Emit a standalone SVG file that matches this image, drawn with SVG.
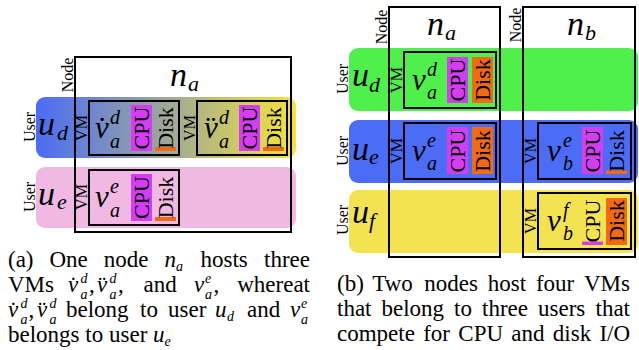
<svg xmlns="http://www.w3.org/2000/svg" width="639" height="350" viewBox="0 0 639 350" font-family="'Liberation Serif', 'DejaVu Serif', serif">
<style>
text{font-family:'Liberation Serif','DejaVu Serif',serif;fill:#000}
.big{font-size:34px;font-style:italic}
.vv{font-size:31px;font-style:italic}
.sub{font-size:22px;font-style:italic}
.ss{font-size:20px;font-style:italic}
.lbl{font-size:16px}
.res{font-size:22px}
.cap{font-size:23px}
.cm{font-style:italic}
.cs{font-size:14px;font-style:italic}
.box{fill:none;stroke:#000;stroke-width:2}
.cpu{fill:#d43ef2}
.disk{fill:#f26a12}
</style>
<defs>
<linearGradient id="gUd" x1="0" y1="0" x2="1" y2="0">
<stop offset="0" stop-color="#4a6cf6"/>
<stop offset="1" stop-color="#f3e43a"/>
</linearGradient>
</defs>

<g id="panel-a">
 <g id="a-user-ud">
  <rect x="36" y="97" width="260" height="61" rx="9" fill="url(#gUd)"/>
  <text class="lbl" text-anchor="middle" transform="translate(35,127) rotate(-90)">User</text>
  <text class="big" x="38" y="135">u<tspan class="sub" x="57" y="140">d</tspan></text>
 </g>
 <g id="a-user-ue">
  <rect x="36" y="167" width="260" height="61" rx="9" fill="#f0b8e2"/>
  <text class="lbl" text-anchor="middle" transform="translate(35,197) rotate(-90)">User</text>
  <text class="big" x="38" y="205">u<tspan class="sub" x="57" y="209">e</tspan></text>
 </g>
 <g id="a-node-na">
  <rect class="box" x="75" y="57" width="216" height="175"/>
  <text class="lbl" text-anchor="middle" transform="translate(73,75) rotate(-90)">Node</text>
  <text class="big" x="170" y="86">n<tspan class="sub" x="188" y="91">a</tspan></text>
 </g>
 <g id="a-vm1">
  <rect class="box" x="89" y="101" width="90" height="54"/>
  <text class="lbl" text-anchor="middle" transform="translate(87,128) rotate(-90)">VM</text>
  <text class="vv" x="95" y="138">v̇<tspan class="ss" x="110" y="124">d</tspan><tspan class="ss" x="110" y="148">a</tspan></text>
  <rect class="cpu" x="131" y="105" width="21" height="46"/>
  <text class="res" text-anchor="middle" transform="translate(149,128) rotate(-90)">CPU</text>
  <rect class="disk" x="155" y="147" width="21" height="4"/>
  <text class="res" text-anchor="middle" transform="translate(173,128) rotate(-90)">Disk</text>
 </g>
 <g id="a-vm2">
  <rect class="box" x="197" y="101" width="90" height="54"/>
  <text class="lbl" text-anchor="middle" transform="translate(195,128) rotate(-90)">VM</text>
  <text class="vv" x="204" y="138">v̈<tspan class="ss" x="219" y="124">d</tspan><tspan class="ss" x="219" y="148">a</tspan></text>
  <rect class="cpu" x="239" y="105" width="21" height="46"/>
  <text class="res" text-anchor="middle" transform="translate(257,128) rotate(-90)">CPU</text>
  <rect class="disk" x="263" y="147" width="21" height="4"/>
  <text class="res" text-anchor="middle" transform="translate(281,128) rotate(-90)">Disk</text>
 </g>
 <g id="a-vm3">
  <rect class="box" x="89" y="170" width="90" height="55"/>
  <text class="lbl" text-anchor="middle" transform="translate(87,197) rotate(-90)">VM</text>
  <text class="vv" x="95" y="207">v<tspan class="ss" x="110" y="193">e</tspan><tspan class="ss" x="110" y="217">a</tspan></text>
  <rect class="cpu" x="131" y="174" width="21" height="47"/>
  <text class="res" text-anchor="middle" transform="translate(149,197.5) rotate(-90)">CPU</text>
  <rect class="disk" x="155" y="217" width="21" height="4"/>
  <text class="res" text-anchor="middle" transform="translate(173,197.5) rotate(-90)">Disk</text>
 </g>
 <g id="caption-a">
  <text class="cap"><tspan x="8" y="267">(a)</tspan><tspan x="49.5" y="267">One</tspan><tspan x="103.8" y="267">node</tspan><tspan class="cm" x="164.5" y="267">n</tspan><tspan class="cs" x="176" y="271">a</tspan><tspan x="200.5" y="267">hosts</tspan><tspan x="310" y="267" text-anchor="end">three</tspan></text>
  <text class="cap"><tspan x="8" y="292">VMs</tspan><tspan class="cm" x="68" y="292">v̇</tspan><tspan class="cs" x="80.5" y="283">d</tspan><tspan class="cs" x="80.5" y="299">a</tspan><tspan x="89" y="292">,</tspan><tspan class="cm" x="97" y="292">v̈</tspan><tspan class="cs" x="109.5" y="283">d</tspan><tspan class="cs" x="109.5" y="299">a</tspan><tspan x="118" y="292">,</tspan><tspan x="143.5" y="292">and</tspan><tspan class="cm" x="194" y="292">v</tspan><tspan class="cs" x="205" y="283">e</tspan><tspan class="cs" x="205" y="299">a</tspan><tspan x="213.5" y="292">,</tspan><tspan x="310" y="292" text-anchor="end">whereat</tspan></text>
  <text class="cap"><tspan class="cm" x="8" y="317">v̇</tspan><tspan class="cs" x="20.5" y="308">d</tspan><tspan class="cs" x="20.5" y="324">a</tspan><tspan x="28.5" y="317">,</tspan><tspan class="cm" x="37" y="317">v̈</tspan><tspan class="cs" x="49.5" y="308">d</tspan><tspan class="cs" x="49.5" y="324">a</tspan><tspan x="66" y="317">belong</tspan><tspan x="140" y="317">to</tspan><tspan x="168" y="317">user</tspan><tspan class="cm" x="215" y="317">u</tspan><tspan class="cs" x="227" y="321">d</tspan><tspan x="247" y="317">and</tspan><tspan class="cm" x="290" y="317">v</tspan><tspan class="cs" x="301" y="308">e</tspan><tspan class="cs" x="301" y="324">a</tspan></text>
  <text class="cap"><tspan x="8" y="342">belongs</tspan><tspan x="85.3" y="342">to</tspan><tspan x="109" y="342">user</tspan><tspan class="cm" x="153" y="342">u</tspan><tspan class="cs" x="164.5" y="346">e</tspan></text>
 </g>
</g>

<g id="panel-b">
 <g id="b-user-ud">
  <rect x="349" y="48" width="289" height="63" rx="9" fill="#4ff04c"/>
  <text class="lbl" text-anchor="middle" transform="translate(348,79) rotate(-90)">User</text>
  <text class="big" x="352" y="86">u<tspan class="sub" x="369" y="92">d</tspan></text>
 </g>
 <g id="b-user-ue">
  <rect x="349" y="120" width="289" height="63" rx="9" fill="#4d6cf5"/>
  <text class="lbl" text-anchor="middle" transform="translate(348,151) rotate(-90)">User</text>
  <text class="big" x="352" y="160">u<tspan class="sub" x="369" y="164">e</tspan></text>
 </g>
 <g id="b-user-uf">
  <rect x="349" y="190" width="289" height="63" rx="9" fill="#f4e350"/>
  <text class="lbl" text-anchor="middle" transform="translate(348,220) rotate(-90)">User</text>
  <text class="big" x="352" y="223">u<tspan class="sub" x="369" y="228">f</tspan></text>
 </g>
 <g id="b-node-na">
  <rect class="box" x="389" y="7" width="111" height="250"/>
  <text class="lbl" text-anchor="middle" transform="translate(387,27) rotate(-90)">Node</text>
  <text class="big" x="427" y="35">n<tspan class="sub" x="445" y="40">a</tspan></text>
 </g>
 <g id="b-node-nb">
  <rect class="box" x="523" y="7" width="112" height="250"/>
  <text class="lbl" text-anchor="middle" transform="translate(521,25) rotate(-90)">Node</text>
  <text class="big" x="567" y="35">n<tspan class="sub" x="585" y="40">b</tspan></text>
 </g>
 <g id="b-vm-da">
  <rect class="box" x="404" y="52" width="92" height="56"/>
  <text class="lbl" text-anchor="middle" transform="translate(402,80) rotate(-90)">VM</text>
  <text class="vv" x="412" y="90">v<tspan class="ss" x="427" y="76">d</tspan><tspan class="ss" x="427" y="99">a</tspan></text>
  <rect class="cpu" x="447" y="57" width="21" height="46"/>
  <text class="res" text-anchor="middle" transform="translate(465,80) rotate(-90)">CPU</text>
  <rect class="disk" x="472" y="57" width="21" height="46"/>
  <text class="res" text-anchor="middle" transform="translate(490,80) rotate(-90)">Disk</text>
 </g>
 <g id="b-vm-ea">
  <rect class="box" x="404" y="123" width="92" height="56"/>
  <text class="lbl" text-anchor="middle" transform="translate(402,151) rotate(-90)">VM</text>
  <text class="vv" x="412" y="161">v<tspan class="ss" x="427" y="147">e</tspan><tspan class="ss" x="427" y="170">a</tspan></text>
  <rect class="cpu" x="447" y="127" width="21" height="47"/>
  <text class="res" text-anchor="middle" transform="translate(465,151) rotate(-90)">CPU</text>
  <rect class="disk" x="472" y="127" width="21" height="47"/>
  <text class="res" text-anchor="middle" transform="translate(490,151) rotate(-90)">Disk</text>
 </g>
 <g id="b-vm-eb">
  <rect class="box" x="538" y="123" width="93" height="56"/>
  <text class="lbl" text-anchor="middle" transform="translate(536,151) rotate(-90)">VM</text>
  <text class="vv" x="547" y="161">v<tspan class="ss" x="563" y="147">e</tspan><tspan class="ss" x="563" y="170">b</tspan></text>
  <rect class="cpu" x="582" y="127" width="21" height="47"/>
  <text class="res" text-anchor="middle" transform="translate(600,151) rotate(-90)">CPU</text>
  <rect class="disk" x="606" y="170.5" width="21" height="3.5"/>
  <text class="res" text-anchor="middle" transform="translate(624,151) rotate(-90)">Disk</text>
 </g>
 <g id="b-vm-fb">
  <rect class="box" x="538" y="193" width="93" height="56"/>
  <text class="lbl" text-anchor="middle" transform="translate(536,221) rotate(-90)">VM</text>
  <text class="vv" x="547" y="231">v<tspan class="ss" x="563" y="217">f</tspan><tspan class="ss" x="563" y="240">b</tspan></text>
  <rect class="cpu" x="582" y="241.5" width="21" height="3.5"/>
  <text class="res" text-anchor="middle" transform="translate(600,221) rotate(-90)">CPU</text>
  <rect class="disk" x="606" y="198" width="21" height="47"/>
  <text class="res" text-anchor="middle" transform="translate(624,221) rotate(-90)">Disk</text>
 </g>
 <g id="caption-b">
  <text class="cap" y="291"><tspan x="337">(b)</tspan><tspan x="372.3">Two</tspan><tspan x="424.3">nodes</tspan><tspan x="487.8">host</tspan><tspan x="535.9">four</tspan><tspan x="630" text-anchor="end">VMs</tspan></text>
  <text class="cap" y="316"><tspan x="337">that</tspan><tspan x="381.5">belong</tspan><tspan x="454.1">to</tspan><tspan x="482">three</tspan><tspan x="538">users</tspan><tspan x="630" text-anchor="end">that</tspan></text>
  <text class="cap" y="341"><tspan x="337">compete</tspan><tspan x="423.2">for</tspan><tspan x="458.3">CPU</tspan><tspan x="511.3">and</tspan><tspan x="552.8">disk</tspan><tspan x="599.4">I/O</tspan></text>
 </g>
</g>
<g id="connectors"/>
</svg>
